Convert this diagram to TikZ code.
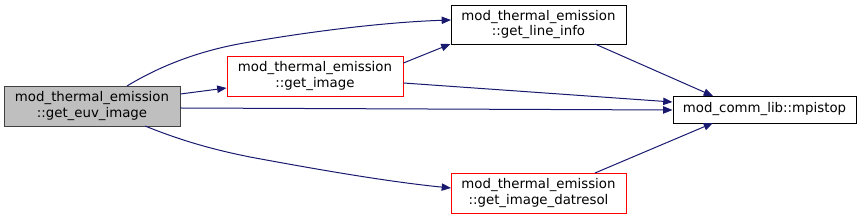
\documentclass[tikz,border=0pt]{standalone}
\usepackage{fontspec}
\setmainfont{DejaVu Sans}
\usetikzlibrary{arrows.meta}
\definecolor{edgeblue}{HTML}{191970}
\tikzset{
  fn/.style={draw=black, fill=white, line width=0.7pt, align=center, font=\fontsize{10}{11.5}\selectfont, inner sep=0pt},
  root/.style={fn, fill=black!25, draw=black!75},
  redfn/.style={fn, draw=red},
  call/.style={draw=edgeblue, line width=0.75pt, -{Triangle[length=7pt,width=5.5pt]}},
}
\begin{document}
\begin{tikzpicture}[x=0.75pt,y=-0.75pt]
\useasboundingbox (0,0) rectangle (861,220);
\node[root, minimum width=176*0.75pt, minimum height=40*0.75pt] (A) at (92,106) {mod\_thermal\_emission\\::get\_euv\_image};
\node[redfn, minimum width=176*0.75pt, minimum height=40*0.75pt] (B) at (315,76) {mod\_thermal\_emission\\::get\_image};
\node[fn, minimum width=175*0.75pt, minimum height=39*0.75pt] (C) at (538.5,24.5) {mod\_thermal\_emission\\::get\_line\_info};
\node[fn, minimum width=183*0.75pt, minimum height=27*0.75pt] (D) at (764.5,109.5) {mod\_comm\_lib::mpistop};
\node[redfn, minimum width=175*0.75pt, minimum height=40*0.75pt] (E) at (538.5,193) {mod\_thermal\_emission\\::get\_image\_datresol};
\coordinate (a1) at (127,86);
\coordinate (c1) at (451,20);
\draw[call] (a1) .. controls (160,66) and (200,50) .. (250,42) .. controls (320,30) and (390,22) .. (c1);
\draw[call] (A.east |- 0,94) -- (B.west |- 0,88);
\draw[call] (A.east |- 0,108) -- (D.west |- 0,110);
\coordinate (a2) at (145,126);
\coordinate (e1) at (451,188);
\draw[call] (a2) .. controls (175,138) and (205,148) .. (250,157) .. controls (320,170) and (390,182) .. (e1);
\draw[call] (B.east |- 0,63) -- (C.west |- 0,44);
\draw[call] (B.east |- 0,83) -- (D.west |- 0,102);
\draw[call] (595,44) -- (713,96);
\draw[call] (595,173) -- (713,123);
\end{tikzpicture}
\end{document}
